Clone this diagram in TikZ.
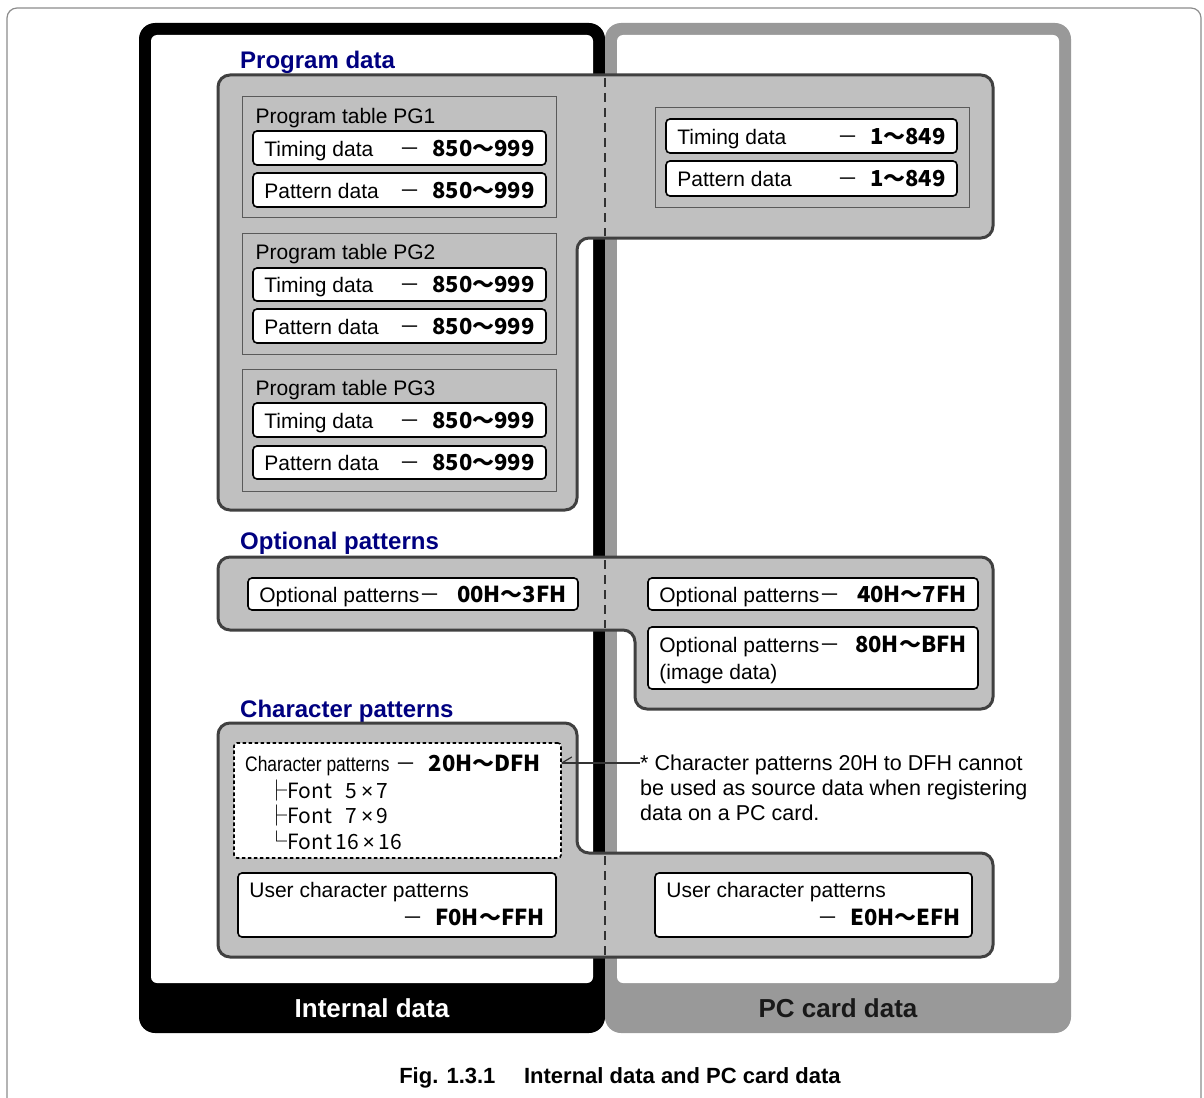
\documentclass[tikz,border=0pt]{standalone}
\usepackage{fontspec}
\usepackage{graphicx}
\setmainfont{Liberation Sans}
\newfontfamily\jpfont{Noto Sans CJK JP}

\definecolor{regfill}{RGB}{192,192,192}
\definecolor{regline}{RGB}{64,64,64}
\definecolor{tabline}{RGB}{90,90,90}
\definecolor{pcgray}{RGB}{153,153,153}
\definecolor{titleblue}{RGB}{0,0,128}
\definecolor{pagerule}{RGB}{140,140,140}
\definecolor{divline}{RGB}{50,50,50}
\definecolor{pctext}{RGB}{25,25,25}

% range values and the dash before them
\newcommand\dval[1]{{\jpfont\bfseries\fontsize{22}{26}\selectfont #1}}
\newcommand\ddash{{\jpfont －}}
\newcommand\dgap{\hspace{12pt}}
\newcommand\fsize[2]{#1\,{\normalfont ×}\,#2}

% white entry box with a left label and a right-aligned value
\newcommand\entrybox[7]{%
  \node[entry, minimum width={(#4-#2)*1pt}, minimum height={(#5-#3)*1pt}]
    (#1) at ({(#2+#4)/2},{(#3+#5)/2}) {};
  \node[etxt, anchor=base west] (#1-l) at ([xshift=12pt,yshift=-8pt]#1.west) {#6};
  \node[etxt, anchor=base east] (#1-r) at ([xshift=-12pt,yshift=-8pt]#1.east) {#7};
}
% grey program table box with its heading
\newcommand\tablebox[6]{%
  \node[tabbox, minimum width={(#4-#2)*1pt}, minimum height={(#5-#3)*1pt}]
    (#1) at ({(#2+#4)/2},{(#3+#5)/2}) {};
  \node[etxt, anchor=base west] (#1-h) at ([xshift=14pt,yshift=-27pt]#1.north west) {#6};
}

\begin{document}
\begin{tikzpicture}[x=1pt,y=-1pt,
  region/.style={fill=regfill, draw=regline, line width=3pt, rounded corners=12pt},
  tabbox/.style={rectangle, fill=regfill, draw=tabline, line width=1pt, inner sep=0pt},
  entry/.style={rectangle, fill=white, draw=black, line width=1.6pt, rounded corners=4pt, inner sep=0pt},
  etxt/.style={inner sep=0pt, font=\fontsize{21}{25}\selectfont},
  title/.style={inner sep=0pt, text=titleblue, font=\fontsize{24}{28}\selectfont\bfseries},
  bandtxt/.style={inner sep=0pt, font=\fontsize{26}{30}\selectfont\bfseries},
  divider/.style={draw=divline, line width=1.4pt, dash pattern=on 9pt off 6pt},
  noteline/.style={draw=black!80, line width=1.2pt},
]
\useasboundingbox (0,0) rectangle (1204,1097);

% page rule
\draw[pagerule, line width=1.2pt, rounded corners=10pt] (7,8) rectangle (1201,1140);

% the two storage frames
\fill[black, rounded corners=16pt] (139,23) rectangle (605,1033);
\fill[white, rounded corners=6pt] (151,35) rectangle (593,983);
\fill[pcgray, rounded corners=16pt] (605,23) rectangle (1071,1033);
\fill[white, rounded corners=6pt] (617,35) rectangle (1059,983);
\node[bandtxt, text=white] (intlbl) at (372,1008) {Internal data};
\node[bandtxt, text=pctext] (pclbl) at (838,1008) {PC card data};

% ---- program data ----
\node[title, anchor=base west] (tprog) at (240,69) {Program data};
\draw[region] (218,75) -- (993,75) -- (993,238) -- (577,238) -- (577,510) -- (218,510) -- cycle;
\draw[divider] (605,78) -- (605,236);

\tablebox{pg1}{242}{97}{556}{217}{Program table PG1}
\entrybox{pg1t}{253}{131}{546}{165}{Timing data}{\ddash\dgap\dval{850〜999}}
\entrybox{pg1p}{253}{173}{546}{207}{Pattern data}{\ddash\dgap\dval{850〜999}}

\tablebox{pg2}{242}{233}{556}{354}{Program table PG2}
\entrybox{pg2t}{253}{268}{546}{301}{Timing data}{\ddash\dgap\dval{850〜999}}
\entrybox{pg2p}{253}{309}{546}{343}{Pattern data}{\ddash\dgap\dval{850〜999}}

\tablebox{pg3}{242}{369}{556}{491}{Program table PG3}
\entrybox{pg3t}{253}{403}{546}{437}{Timing data}{\ddash\dgap\dval{850〜999}}
\entrybox{pg3p}{253}{446}{546}{479}{Pattern data}{\ddash\dgap\dval{850〜999}}

\node[tabbox, minimum width=314pt, minimum height=99pt] (pgc) at (812,157.5) {};
\entrybox{pgct}{666}{119}{957}{153}{Timing data}{\ddash\dgap\dval{1〜849}}
\entrybox{pgcp}{666}{161}{957}{196}{Pattern data}{\ddash\dgap\dval{1〜849}}

% ---- optional patterns ----
\node[title, anchor=base west] (topt) at (240,549) {Optional patterns};
\draw[region] (218,557) -- (993,557) -- (993,709) -- (635,709) -- (635,630) -- (218,630) -- cycle;
\draw[divider] (605,560) -- (605,628);
\entrybox{opi}{248}{578}{578}{610}{Optional patterns\ddash}{\dval{00H〜3FH}}
\entrybox{opc}{648}{578}{978}{610}{Optional patterns\ddash}{\dval{40H〜7FH}}
\node[entry, minimum width=330pt, minimum height=62pt] (opimg) at (813,658) {};
\node[etxt, anchor=base west] (opimg-l) at ([xshift=12pt,yshift=-26pt]opimg.north west) {Optional patterns\ddash};
\node[etxt, anchor=base east] (opimg-r) at ([xshift=-12pt,yshift=-26pt]opimg.north east) {\dval{80H〜BFH}};
\node[etxt, anchor=base west] (opimg-n) at ([xshift=12pt,yshift=-53pt]opimg.north west) {(image data)};

% ---- character patterns ----
\node[title, anchor=base west] (tchar) at (240,717) {Character patterns};
\draw[region] (218,723) -- (577,723) -- (577,853) -- (993,853) -- (993,957) -- (218,957) -- cycle;
\draw[divider] (605,856) -- (605,955);

\node[rectangle, fill=white, draw=black, line width=1.6pt, dash pattern=on 3.5pt off 2.5pt,
      rounded corners=3pt, minimum width=327pt, minimum height=115pt, inner sep=0pt]
  (cpbox) at (397.5,800.5) {};
\node[etxt, anchor=base west] (cp-h) at (245,771) {\scalebox{0.83}[1]{Character patterns}};
\node[etxt, anchor=base east] (cp-v) at (541,771) {\ddash\dgap\dval{20H〜DFH}};
\node[etxt, anchor=base west] (cp-f1) at (266,798) {{\jpfont ├Font}\hspace{14pt}{\jpfont\fsize{5}{7}}};
\node[etxt, anchor=base west] (cp-f2) at (266,823) {{\jpfont ├Font}\hspace{14pt}{\jpfont\fsize{7}{9}}};
\node[etxt, anchor=base west] (cp-f3) at (266,849) {{\jpfont └Font}\hspace{4pt}{\jpfont\fsize{16}{16}}};

\node[entry, minimum width=318pt, minimum height=64pt] (ucpi) at (397,905) {};
\node[etxt, anchor=base west] (ucpi-l) at ([xshift=12pt,yshift=-25pt]ucpi.north west) {User character patterns};
\node[etxt, anchor=base east] (ucpi-r) at ([xshift=-12pt,yshift=-53pt]ucpi.north east) {\ddash\dgap\dval{F0H〜FFH}};
\node[entry, minimum width=317pt, minimum height=64pt] (ucpc) at (813.5,905) {};
\node[etxt, anchor=base west] (ucpc-l) at ([xshift=12pt,yshift=-25pt]ucpc.north west) {User character patterns};
\node[etxt, anchor=base east] (ucpc-r) at ([xshift=-12pt,yshift=-53pt]ucpc.north east) {\ddash\dgap\dval{E0H〜EFH}};

% note on the character patterns
\node[etxt, anchor=north west, align=left, font=\fontsize{21.5}{25}\selectfont] (note) at (640,755)
  {* Character patterns 20H to DFH cannot\\be used as source data when registering\\data on a PC card.};
\coordinate (noteY) at (0,763);
\coordinate (hook) at (cpbox.east |- noteY);
\draw[noteline] (hook) -- (note.west |- noteY);
\draw[noteline] (hook) -- ++(10,-6);

% caption
\node[inner sep=0pt, font=\fontsize{22}{26}\selectfont\bfseries] (cap) at (620,1078)
  {Fig. 1.3.1\hspace{1.3em}Internal data and PC card data};
\end{tikzpicture}
\end{document}
